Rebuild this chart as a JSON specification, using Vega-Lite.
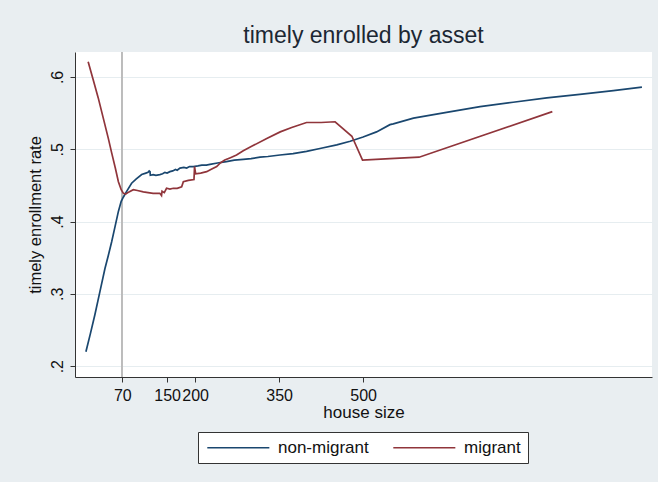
{
  "$schema": "https://vega.github.io/schema/vega-lite/v6.json",
  "width": 577,
  "height": 325,
  "padding": {"left": 75, "top": 52, "right": 6, "bottom": 105},
  "autosize": {"type": "none"},
  "background": "#e9eef1",
  "config": {
    "font": "Liberation Sans",
    "view": {"fill": "white", "stroke": null},
    "axis": {"labelColor": "#111", "titleColor": "#111", "domainColor": "#333", "tickColor": "#333", "titleFontWeight": "normal", "labelFont": "Liberation Sans", "titleFont": "Liberation Sans"}
  },
  "title": {"text": "timely enrolled by asset", "fontSize": 23, "fontWeight": "normal", "color": "#1c2733", "anchor": "middle", "offset": 3, "font": "Liberation Sans"},
  "data": {"values": [
    {"s":"non-migrant","x":5,"y":0.220},{"s":"non-migrant","x":13,"y":0.245},{"s":"non-migrant","x":21,"y":0.271},{"s":"non-migrant","x":30,"y":0.303},{"s":"non-migrant","x":39,"y":0.335},{"s":"non-migrant","x":45,"y":0.353},{"s":"non-migrant","x":51,"y":0.372},{"s":"non-migrant","x":57,"y":0.393},{"s":"non-migrant","x":63,"y":0.414},{"s":"non-migrant","x":68,"y":0.428},{"s":"non-migrant","x":72,"y":0.434},{"s":"non-migrant","x":78,"y":0.442},{"s":"non-migrant","x":86.6,"y":0.453},{"s":"non-migrant","x":95,"y":0.459},{"s":"non-migrant","x":104.6,"y":0.465},{"s":"non-migrant","x":112,"y":0.467},{"s":"non-migrant","x":116,"y":0.468},{"s":"non-migrant","x":118,"y":0.470},{"s":"non-migrant","x":119.5,"y":0.469},{"s":"non-migrant","x":120,"y":0.464},{"s":"non-migrant","x":125,"y":0.465},{"s":"non-migrant","x":130,"y":0.464},{"s":"non-migrant","x":137,"y":0.465},{"s":"non-migrant","x":142,"y":0.466},{"s":"non-migrant","x":146,"y":0.468},{"s":"non-migrant","x":150,"y":0.467},{"s":"non-migrant","x":155,"y":0.469},{"s":"non-migrant","x":160,"y":0.470},{"s":"non-migrant","x":165,"y":0.472},{"s":"non-migrant","x":168,"y":0.471},{"s":"non-migrant","x":173,"y":0.474},{"s":"non-migrant","x":180,"y":0.475},{"s":"non-migrant","x":185,"y":0.474},{"s":"non-migrant","x":190,"y":0.476},{"s":"non-migrant","x":197,"y":0.476},{"s":"non-migrant","x":205,"y":0.477},{"s":"non-migrant","x":212,"y":0.478},{"s":"non-migrant","x":220,"y":0.478},{"s":"non-migrant","x":226.6,"y":0.479},{"s":"non-migrant","x":240,"y":0.481},{"s":"non-migrant","x":256,"y":0.483},{"s":"non-migrant","x":270,"y":0.485},{"s":"non-migrant","x":286,"y":0.486},{"s":"non-migrant","x":300,"y":0.487},{"s":"non-migrant","x":316,"y":0.489},{"s":"non-migrant","x":330,"y":0.490},{"s":"non-migrant","x":351.6,"y":0.492},{"s":"non-migrant","x":375,"y":0.494},{"s":"non-migrant","x":399,"y":0.497},{"s":"non-migrant","x":423,"y":0.501},{"s":"non-migrant","x":453,"y":0.506},{"s":"non-migrant","x":477,"y":0.511},{"s":"non-migrant","x":500,"y":0.517},{"s":"non-migrant","x":524,"y":0.524},{"s":"non-migrant","x":548,"y":0.534},{"s":"non-migrant","x":554,"y":0.535},{"s":"non-migrant","x":590,"y":0.543},{"s":"non-migrant","x":649,"y":0.551},{"s":"non-migrant","x":709,"y":0.559},{"s":"non-migrant","x":768,"y":0.565},{"s":"non-migrant","x":828,"y":0.571},{"s":"non-migrant","x":887,"y":0.576},{"s":"non-migrant","x":947,"y":0.581},{"s":"non-migrant","x":998,"y":0.586},
    {"s":"migrant","x":9,"y":0.621},{"s":"migrant","x":18,"y":0.596},{"s":"migrant","x":27,"y":0.571},{"s":"migrant","x":36,"y":0.543},{"s":"migrant","x":45,"y":0.515},{"s":"migrant","x":51,"y":0.495},{"s":"migrant","x":57.5,"y":0.474},{"s":"migrant","x":63,"y":0.455},{"s":"migrant","x":68,"y":0.444},{"s":"migrant","x":72,"y":0.439},{"s":"migrant","x":76,"y":0.438},{"s":"migrant","x":82,"y":0.441},{"s":"migrant","x":89.6,"y":0.444},{"s":"migrant","x":97,"y":0.443},{"s":"migrant","x":107.5,"y":0.441},{"s":"migrant","x":116,"y":0.440},{"s":"migrant","x":125,"y":0.439},{"s":"migrant","x":137,"y":0.439},{"s":"migrant","x":140,"y":0.436},{"s":"migrant","x":141,"y":0.442},{"s":"migrant","x":145,"y":0.440},{"s":"migrant","x":149,"y":0.446},{"s":"migrant","x":155,"y":0.445},{"s":"migrant","x":161,"y":0.446},{"s":"migrant","x":168,"y":0.446},{"s":"migrant","x":176,"y":0.448},{"s":"migrant","x":179,"y":0.455},{"s":"migrant","x":188,"y":0.457},{"s":"migrant","x":198,"y":0.458},{"s":"migrant","x":199,"y":0.476},{"s":"migrant","x":201,"y":0.466},{"s":"migrant","x":210,"y":0.467},{"s":"migrant","x":220.7,"y":0.469},{"s":"migrant","x":228,"y":0.472},{"s":"migrant","x":238.6,"y":0.476},{"s":"migrant","x":245,"y":0.481},{"s":"migrant","x":253,"y":0.485},{"s":"migrant","x":262,"y":0.488},{"s":"migrant","x":274,"y":0.492},{"s":"migrant","x":286,"y":0.498},{"s":"migrant","x":301,"y":0.504},{"s":"migrant","x":328,"y":0.515},{"s":"migrant","x":352,"y":0.524},{"s":"migrant","x":372.5,"y":0.530},{"s":"migrant","x":399,"y":0.537},{"s":"migrant","x":425,"y":0.537},{"s":"migrant","x":450,"y":0.538},{"s":"migrant","x":480,"y":0.518},{"s":"migrant","x":499,"y":0.485},{"s":"migrant","x":548,"y":0.487},{"s":"migrant","x":600,"y":0.489},{"s":"migrant","x":838,"y":0.552}
  ]},
  "layer": [
    {
      "mark": {"type": "rule", "color": "#bdbdbd", "strokeWidth": 1.3},
      "encoding": {"x": {"datum": 70, "type": "quantitative"}}
    },
    {
      "mark": {"type": "line", "strokeWidth": 1.7, "interpolate": "linear"},
      "encoding": {
        "x": {"field": "x", "type": "quantitative", "title": "house size",
              "scale": {"domain": [-14.5, 1016], "nice": false, "zero": false},
              "axis": {"values": [70, 150, 200, 350, 500], "grid": false, "tickSize": 5, "labelFontSize": 16, "labelPadding": 5, "titleFontSize": 17, "titlePadding": 1, "labelFlush": false}},
        "y": {"field": "y", "type": "quantitative", "title": "timely enrollment rate",
              "scale": {"domain": [0.185, 0.6345], "nice": false, "zero": false},
              "axis": {"values": [0.2, 0.3, 0.4, 0.5, 0.6], "labelExpr": "substring(format(datum.value, '.1f'), 1)", "labelAngle": -90, "labelAlign": "center", "labelBaseline": "bottom", "labelPadding": 5, "tickSize": 5, "labelFontSize": 16, "titleFontSize": 16.5, "titlePadding": 6, "grid": true, "gridColor": "#e6edf0", "gridWidth": 1.2}},
        "color": {"field": "s", "type": "nominal", "sort": ["non-migrant", "migrant"],
                  "scale": {"domain": ["non-migrant", "migrant"], "range": ["#1a476f", "#90353b"]},
                  "legend": {"title": null, "orient": "none", "legendX": 123, "legendY": 380, "direction": "horizontal", "symbolType": "M-1,0H9", "symbolSize": 154, "symbolStrokeWidth": 1.5, "labelFontSize": 17, "labelColor": "#111", "labelOffset": 56, "columnPadding": 21, "padding": 7, "strokeColor": "#333", "fillColor": "white", "cornerRadius": 0, "labelFont": "Liberation Sans"}},
        "detail": {"field": "s"}
      }
    }
  ]
}
